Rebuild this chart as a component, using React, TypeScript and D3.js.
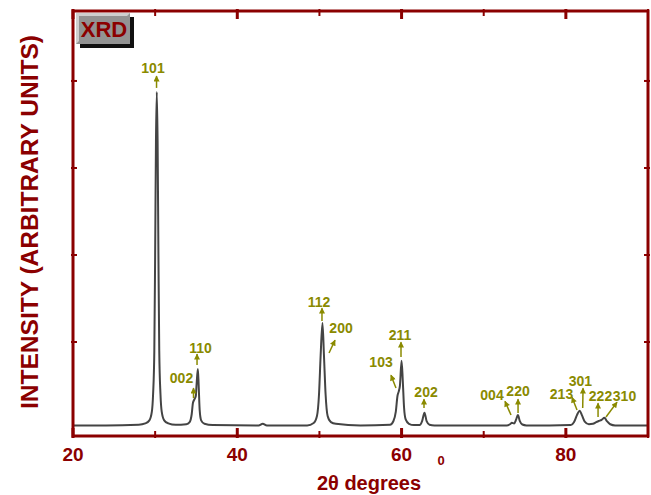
import React, { useEffect } from "react";
import * as d3 from "d3";

// ---- Data ----
const patternTheta = [
  20, 24, 28, 28.8, 29.3, 29.6, 29.75, 29.9, 30.0, 30.1, 30.2, 30.3, 30.4, 30.5, 30.65, 30.8, 31.1, 31.6, 32.5,
  33.8, 34.2, 34.45, 34.6, 34.78, 34.95, 35.05, 35.2, 35.3, 35.42, 35.6, 36.0, 37.0,
  42.6, 43.1, 43.6, 48.5,
  49.3, 49.7, 49.95, 50.15, 50.37, 50.55, 50.75, 51.0, 51.4, 52.0, 55.0,
  58.6, 59.0, 59.3, 59.5, 59.65, 59.8, 60.0, 60.15, 60.3, 60.5, 60.9, 61.5,
  62.2, 62.5, 62.79, 63.05, 63.4, 64.0, 68.0,
  72.8, 73.2, 73.43, 73.7, 73.95, 74.16, 74.4, 74.7, 75.2, 78.0,
  80.6, 81.0, 81.35, 81.67, 81.95, 82.3, 82.8, 83.3, 83.7, 84.0, 84.35, 84.7, 85.0, 85.4, 86.0, 90.0,
];
const patternIntensity = [
  42, 42, 50, 65, 100, 200, 400, 900, 2000, 3300, 3874, 3300, 2000, 900, 400, 200, 100, 65, 48,
  55, 80, 170, 300, 340, 380, 520, 690, 500, 220, 100, 60, 45,
  40, 60, 40, 42,
  70, 150, 400, 850, 1218, 850, 400, 150, 80, 60, 42,
  50, 90, 200, 380, 430, 500, 785, 550, 250, 110, 60, 45,
  45, 90, 187, 90, 50, 42, 40,
  42, 55, 72, 65, 110, 161, 90, 52, 42, 40,
  45, 80, 160, 210, 160, 85, 55, 60, 80, 92, 105, 130, 90, 55, 42, 40,
];

const peakLabels = ["101", "002", "110", "112", "200", "103", "211", "202", "004", "220", "213", "301", "222", "310"];
const labelTheta = [29.74, 33.21, 35.52, 49.95, 52.63, 57.5, 59.81, 62.98, 71.01, 74.18, 79.47, 81.78, 84.22, 87.14];
const labelIntensity = [4092, 529, 874, 1402, 1103, 713, 1023, 368, 333, 379, 345, 494, 322, 322];
const arrowFromTheta = [30.17, 34.67, 35.1, 50.31, 51.17, 59.32, 59.93, 62.73, 73.32, 74.18, 81.36, 82.05, 83.92, 84.89];
const arrowFromIntensity = [3920, 356, 736, 1241, 874, 471, 828, 241, 161, 184, 218, 241, 138, 138];
const arrowToTheta = [30.17, 34.67, 35.1, 50.31, 51.9, 58.71, 59.93, 62.73, 72.59, 74.18, 80.75, 82.09, 83.92, 86.23];
const arrowToIntensity = [4056, 470, 861, 1389, 1021, 619, 998, 343, 320, 343, 366, 470, 297, 309];

const xMajorTicks = [20, 40, 60, 80];
const xMinorTicks = [30, 50, 70, 90];
const yTicks = [1000, 2000, 3000, 4000];

const xDomain = [20, 90];
const yDomain = [-80, 4804];

const AXIS = "#8b0000";
const OLIVE = "#8a8a00";
const FONT = "'Liberation Sans', Arial, sans-serif";

export default function App() {
  useEffect(() => {
    document.body.style.margin = "0";
  }, []);

  const W = 651, H = 495;
  const left = 73, right = 648, top = 11, bottom = 436;
  const x = d3.scaleLinear().domain(xDomain).range([left, right]);
  const y = d3.scaleLinear().domain(yDomain).range([bottom, top]);

  const pts = patternTheta.map((t, i) => [t, patternIntensity[i]] as [number, number]);
  const line = d3
    .line<[number, number]>()
    .x((d) => x(d[0]))
    .y((d) => y(d[1]))
    .curve(d3.curveMonotoneX);

  return (
    <svg width={W} height={H} style={{ display: "block" }} fontFamily={FONT}>
      <defs>
        <marker id="ah" viewBox="0 0 10 10" refX="9" refY="5" markerWidth="8" markerHeight="6" orient="auto" markerUnits="userSpaceOnUse">
          <path d="M0,0 L10,5 L0,10 z" fill={OLIVE} />
        </marker>
      </defs>
      <rect x={0} y={0} width={W} height={H} fill="#fff" />

      {/* curve */}
      <path d={line(pts) || ""} fill="none" stroke="#444" strokeWidth={2} strokeLinejoin="round" />

      {/* frame */}
      <rect x={left} y={top} width={right - left} height={bottom - top} fill="none" stroke={AXIS} strokeWidth={3} />

      {/* x ticks */}
      {xMajorTicks.map((t) => (
        <g key={"xM" + t}>
          <line x1={x(t)} x2={x(t)} y1={bottom + 2} y2={bottom - 8} stroke={AXIS} strokeWidth={3} />
          <line x1={x(t)} x2={x(t)} y1={top - 2} y2={top + 8} stroke={AXIS} strokeWidth={3} />
          <text x={x(t)} y={461} textAnchor="middle" fontSize={19} fontWeight="bold" fill={AXIS}>
            {t}
          </text>
        </g>
      ))}
      {xMinorTicks.map((t) => (
        <g key={"xm" + t}>
          <line x1={x(t)} x2={x(t)} y1={bottom + 2} y2={bottom - 5} stroke={AXIS} strokeWidth={2} />
          <line x1={x(t)} x2={x(t)} y1={top - 2} y2={top + 5} stroke={AXIS} strokeWidth={2} />
        </g>
      ))}
      {/* y ticks */}
      {yTicks.map((t) => (
        <g key={"y" + t}>
          <line x1={left - 2} x2={left + 4} y1={y(t)} y2={y(t)} stroke={AXIS} strokeWidth={2} />
          <line x1={right + 2} x2={right - 4} y1={y(t)} y2={y(t)} stroke={AXIS} strokeWidth={2} />
        </g>
      ))}

      {/* axis titles */}
      <text x={369} y={490} textAnchor="middle" fontSize={20} fontWeight="bold" fill={AXIS}>
        2θ degrees
      </text>
      <text x={441} y={465} textAnchor="middle" fontSize={13} fontWeight="bold" fill={AXIS}>
        0
      </text>
      <text
        transform={`translate(38,222) rotate(-90)`}
        textAnchor="middle"
        fontSize={24.5}
        fontWeight="bold"
        fill={AXIS}
      >
        INTENSITY (ARBITRARY UNITS)
      </text>

      {/* XRD box */}
      <g>
        <rect x={80} y={17} width={54} height={31} fill="#111" />
        <rect x={76} y={13} width={54} height={31} fill="#939393" />
        <path d="M76,13 L130,13 L127,16 L79,16 L79,41 L76,44 z" fill="#cfcfcf" />
        <text x={104} y={37} textAnchor="middle" fontSize={22} fontWeight="bold" fill={AXIS}>
          XRD
        </text>
      </g>

      {/* peak labels */}
      {peakLabels.map((lab, i) => (
        <g key={"pl" + i}>
          <line
            x1={x(arrowFromTheta[i])}
            y1={y(arrowFromIntensity[i])}
            x2={x(arrowToTheta[i])}
            y2={y(arrowToIntensity[i])}
            stroke={OLIVE}
            strokeWidth={1.5}
            markerEnd="url(#ah)"
          />
          <text x={x(labelTheta[i])} y={y(labelIntensity[i])} textAnchor="middle" fontSize={14} fontWeight="bold" fill={OLIVE}>
            {lab}
          </text>
        </g>
      ))}
    </svg>
  );
}
